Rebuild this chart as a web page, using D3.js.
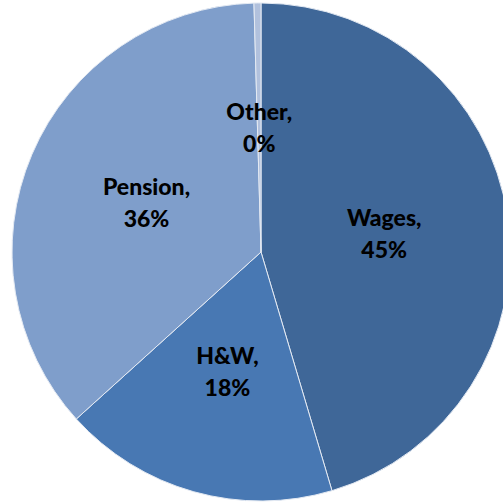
<!DOCTYPE html>
<html>
<head>
<meta charset="utf-8">
<script src="https://cdn.jsdelivr.net/npm/d3@7"></script>
<style>
  html, body { margin: 0; padding: 0; background: #fff; }
  svg { display: block; }
</style>
</head>
<body>
<svg id="chart" width="503" height="502"></svg>
<script>
// Compensation split by category (percent of total)
const categories = ["Wages", "H&W", "Pension", "Other"];
const shares = [45.4, 17.9, 36.25, 0.45];
const colors = ["#3f6798", "#4878b3", "#7f9ecb", "#b1c1dd"];

const data = categories.map((c, i) => ({ name: c, value: shares[i], color: colors[i] }));

const svg = d3.select("#chart");
const cx = 261, cy = 252, radius = 249;

const pie = d3.pie().sort(null).value(d => d.value);
const arc = d3.arc().innerRadius(0).outerRadius(radius);

const g = svg.append("g").attr("transform", `translate(${cx},${cy})`);

const arcs = pie(data);

g.selectAll("path.slice")
  .data(arcs)
  .join("path")
  .attr("class", "slice")
  .attr("d", arc)
  .attr("fill", d => d.data.color)
  .attr("stroke", "#e4eaf3")
  .attr("stroke-width", 1);

const fmt = v => Math.round(v) + "%";

const labels = g.selectAll("text.label")
  .data(arcs)
  .join("text")
  .attr("class", "label")
  .attr("transform", d => `translate(${arc.centroid(d)})`)
  .attr("text-anchor", "middle")
  .style("font-family", "Lato, 'Open Sans', sans-serif")
  .style("font-weight", "900")
  .style("font-size", "23px")
  .attr("fill", "#000");

labels.append("tspan")
  .attr("x", 0)
  .attr("y", -8)
  .text(d => d.data.name + ",");

labels.append("tspan")
  .attr("x", 0)
  .attr("y", 24)
  .text(d => fmt(d.data.value));
</script>
</body>
</html>
